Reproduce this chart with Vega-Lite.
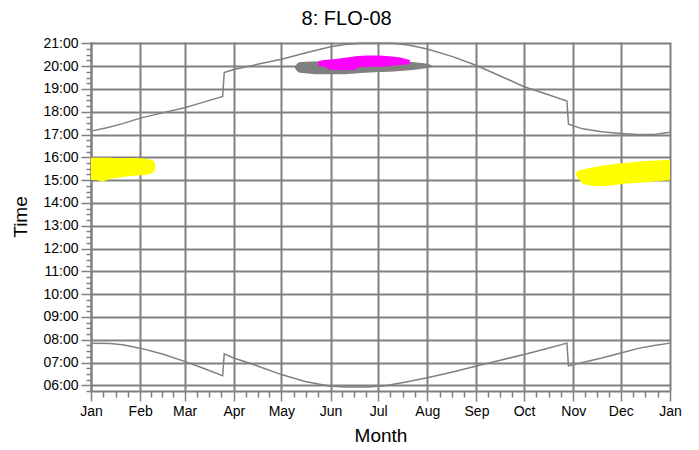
{
  "$schema": "https://vega.github.io/schema/vega-lite/v6.json",
  "width": 579,
  "height": 349,
  "autosize": "none",
  "padding": {"left": 91, "top": 42, "right": 29, "bottom": 59},
  "title": {"text": "8: FLO-08", "font": "Liberation Sans", "fontSize": 20, "fontWeight": "normal", "color": "black", "frame": "bounds", "anchor": "middle", "baseline": "alphabetic", "offset": 11, "dy": 20},
  "config": {
    "view": {"stroke": null},
    "font": "Liberation Sans",
    "axis": {
      "domainColor": "#808080", "domainWidth": 2,
      "tickColor": "#808080", "tickWidth": 1.5,
      "gridColor": "#808080", "gridWidth": 2,
      "labelFont": "Liberation Sans", "labelFontSize": 14, "labelColor": "black",
      "titleFont": "Liberation Sans", "titleFontSize": 19, "titleFontWeight": "normal", "titleColor": "black",
      "zindex": 1, "labelOverlap": false, "labelFlush": false, "labelBound": false, "tickCount": 1000
    }
  },
  "datasets": {
    "glare": [
      {"series": "A", "blob": "A1", "day": 0, "lo": 15.02, "hi": 15.98},
      {"series": "A", "blob": "A1", "day": 4, "lo": 14.99, "hi": 15.98},
      {"series": "A", "blob": "A1", "day": 7, "lo": 14.94, "hi": 15.98},
      {"series": "A", "blob": "A1", "day": 10, "lo": 15.01, "hi": 15.98},
      {"series": "A", "blob": "A1", "day": 14, "lo": 15.07, "hi": 15.97},
      {"series": "A", "blob": "A1", "day": 20, "lo": 15.14, "hi": 15.97},
      {"series": "A", "blob": "A1", "day": 26, "lo": 15.18, "hi": 15.97},
      {"series": "A", "blob": "A1", "day": 31, "lo": 15.21, "hi": 15.96},
      {"series": "A", "blob": "A1", "day": 35, "lo": 15.24, "hi": 15.93},
      {"series": "A", "blob": "A1", "day": 38, "lo": 15.29, "hi": 15.9},
      {"series": "A", "blob": "A1", "day": 40, "lo": 15.41, "hi": 15.82},
      {"series": "A", "blob": "A1", "day": 40.5, "lo": 15.55, "hi": 15.7},
      {"series": "A", "blob": "A2", "day": 305.5, "lo": 15.22, "hi": 15.3},
      {"series": "A", "blob": "A2", "day": 307, "lo": 15.08, "hi": 15.4},
      {"series": "A", "blob": "A2", "day": 310, "lo": 14.84, "hi": 15.47},
      {"series": "A", "blob": "A2", "day": 315, "lo": 14.77, "hi": 15.54},
      {"series": "A", "blob": "A2", "day": 321, "lo": 14.74, "hi": 15.62},
      {"series": "A", "blob": "A2", "day": 328, "lo": 14.77, "hi": 15.69},
      {"series": "A", "blob": "A2", "day": 334, "lo": 14.82, "hi": 15.74},
      {"series": "A", "blob": "A2", "day": 343, "lo": 14.87, "hi": 15.8},
      {"series": "A", "blob": "A2", "day": 352, "lo": 14.92, "hi": 15.85},
      {"series": "A", "blob": "A2", "day": 360, "lo": 14.97, "hi": 15.87},
      {"series": "A", "blob": "A2", "day": 365, "lo": 15.0, "hi": 15.88},
      {"series": "B", "blob": "B1", "day": 128.5, "lo": 19.92, "hi": 19.98},
      {"series": "B", "blob": "B1", "day": 130, "lo": 19.78, "hi": 20.12},
      {"series": "B", "blob": "B1", "day": 132, "lo": 19.71, "hi": 20.18},
      {"series": "B", "blob": "B1", "day": 138, "lo": 19.67, "hi": 20.2},
      {"series": "B", "blob": "B1", "day": 144, "lo": 19.64, "hi": 20.22},
      {"series": "B", "blob": "B1", "day": 157, "lo": 19.64, "hi": 20.25},
      {"series": "B", "blob": "B1", "day": 170, "lo": 19.7, "hi": 20.25},
      {"series": "B", "blob": "B1", "day": 182, "lo": 19.74, "hi": 20.25},
      {"series": "B", "blob": "B1", "day": 195, "lo": 19.79, "hi": 20.22},
      {"series": "B", "blob": "B1", "day": 207, "lo": 19.87, "hi": 20.15},
      {"series": "B", "blob": "B1", "day": 213, "lo": 19.93, "hi": 20.08},
      {"series": "B", "blob": "B1", "day": 215.5, "lo": 19.99, "hi": 20.02},
      {"series": "C", "blob": "C1", "day": 143.3, "lo": 20.0, "hi": 20.22},
      {"series": "C", "blob": "C1", "day": 147, "lo": 19.98, "hi": 20.27},
      {"series": "C", "blob": "C1", "day": 151, "lo": 19.84, "hi": 20.29},
      {"series": "C", "blob": "C1", "day": 160, "lo": 19.83, "hi": 20.37},
      {"series": "C", "blob": "C1", "day": 167, "lo": 19.84, "hi": 20.44},
      {"series": "C", "blob": "C1", "day": 168, "lo": 19.95, "hi": 20.45},
      {"series": "C", "blob": "C1", "day": 180, "lo": 19.97, "hi": 20.47},
      {"series": "C", "blob": "C1", "day": 188, "lo": 20.0, "hi": 20.44},
      {"series": "C", "blob": "C1", "day": 195, "lo": 20.05, "hi": 20.38},
      {"series": "C", "blob": "C1", "day": 201, "lo": 20.08, "hi": 20.27}
    ],
    "sun": [
      {"event": "sunset", "day": 0, "hour": 17.15},
      {"event": "sunset", "day": 10, "hour": 17.3},
      {"event": "sunset", "day": 20, "hour": 17.48},
      {"event": "sunset", "day": 31, "hour": 17.72},
      {"event": "sunset", "day": 45, "hour": 17.95},
      {"event": "sunset", "day": 59, "hour": 18.18},
      {"event": "sunset", "day": 70, "hour": 18.4},
      {"event": "sunset", "day": 83, "hour": 18.67},
      {"event": "sunset", "day": 84, "hour": 19.72},
      {"event": "sunset", "day": 90, "hour": 19.85},
      {"event": "sunset", "day": 105, "hour": 20.08},
      {"event": "sunset", "day": 120, "hour": 20.3},
      {"event": "sunset", "day": 135, "hour": 20.58},
      {"event": "sunset", "day": 151, "hour": 20.85},
      {"event": "sunset", "day": 160, "hour": 20.95},
      {"event": "sunset", "day": 170, "hour": 21.0},
      {"event": "sunset", "day": 190, "hour": 21.0},
      {"event": "sunset", "day": 200, "hour": 20.93},
      {"event": "sunset", "day": 212, "hour": 20.75},
      {"event": "sunset", "day": 228, "hour": 20.42},
      {"event": "sunset", "day": 243, "hour": 20.03},
      {"event": "sunset", "day": 258, "hour": 19.57},
      {"event": "sunset", "day": 273, "hour": 19.1},
      {"event": "sunset", "day": 287, "hour": 18.78},
      {"event": "sunset", "day": 300, "hour": 18.47},
      {"event": "sunset", "day": 301, "hour": 17.45},
      {"event": "sunset", "day": 310, "hour": 17.25},
      {"event": "sunset", "day": 322, "hour": 17.12},
      {"event": "sunset", "day": 334, "hour": 17.05},
      {"event": "sunset", "day": 345, "hour": 17.0},
      {"event": "sunset", "day": 355, "hour": 17.0},
      {"event": "sunset", "day": 365, "hour": 17.1},
      {"event": "sunrise", "day": 0, "hour": 7.85},
      {"event": "sunrise", "day": 12, "hour": 7.83},
      {"event": "sunrise", "day": 20, "hour": 7.78},
      {"event": "sunrise", "day": 31, "hour": 7.63},
      {"event": "sunrise", "day": 45, "hour": 7.37},
      {"event": "sunrise", "day": 59, "hour": 7.05},
      {"event": "sunrise", "day": 70, "hour": 6.77},
      {"event": "sunrise", "day": 83, "hour": 6.42},
      {"event": "sunrise", "day": 84, "hour": 7.38},
      {"event": "sunrise", "day": 90, "hour": 7.2},
      {"event": "sunrise", "day": 105, "hour": 6.85},
      {"event": "sunrise", "day": 120, "hour": 6.47},
      {"event": "sunrise", "day": 135, "hour": 6.17},
      {"event": "sunrise", "day": 150, "hour": 5.97},
      {"event": "sunrise", "day": 160, "hour": 5.93},
      {"event": "sunrise", "day": 175, "hour": 5.93},
      {"event": "sunrise", "day": 185, "hour": 5.98},
      {"event": "sunrise", "day": 197, "hour": 6.12},
      {"event": "sunrise", "day": 212, "hour": 6.33},
      {"event": "sunrise", "day": 228, "hour": 6.58},
      {"event": "sunrise", "day": 243, "hour": 6.85},
      {"event": "sunrise", "day": 258, "hour": 7.1},
      {"event": "sunrise", "day": 273, "hour": 7.35},
      {"event": "sunrise", "day": 287, "hour": 7.6},
      {"event": "sunrise", "day": 300, "hour": 7.85},
      {"event": "sunrise", "day": 301, "hour": 6.85},
      {"event": "sunrise", "day": 310, "hour": 7.0},
      {"event": "sunrise", "day": 322, "hour": 7.2},
      {"event": "sunrise", "day": 334, "hour": 7.42},
      {"event": "sunrise", "day": 345, "hour": 7.62},
      {"event": "sunrise", "day": 355, "hour": 7.75},
      {"event": "sunrise", "day": 365, "hour": 7.85}
    ]
  },
  "layer": [
    {
      "data": {"name": "glare"},
      "transform": [{"filter": "datum.series == 'B'"}],
      "mark": {"type": "area", "color": "#808080", "interpolate": "monotone", "opacity": 1},
      "encoding": {
        "x": {
          "field": "day", "type": "quantitative",
          "scale": {"domain": [0, 365], "nice": false, "zero": false},
          "axis": {
            "title": "Month",
            "values": [0, 7.75, 15.5, 23.25, 31, 38, 45, 52, 59, 66.75, 74.5, 82.25, 90, 97.5, 105, 112.5, 120, 127.75, 135.5, 143.25, 151, 158.5, 166, 173.5, 181, 188.75, 196.5, 204.25, 212, 219.75, 227.5, 235.25, 243, 250.5, 258, 265.5, 273, 280.75, 288.5, 296.25, 304, 311.5, 319, 326.5, 334, 341.75, 349.5, 357.25, 365],
            "labelExpr": "indexof([0,31,59,90,120,151,181,212,243,273,304,334,365], datum.value) >= 0 ? ['Jan','Feb','Mar','Apr','May','Jun','Jul','Aug','Sep','Oct','Nov','Dec','Jan'][indexof([0,31,59,90,120,151,181,212,243,273,304,334,365], datum.value)] : ''",
            "grid": true,
            "gridOpacity": {"condition": {"test": "indexof([0,31,59,90,120,151,181,212,243,273,304,334,365], datum.value) >= 0", "value": 1}, "value": 0},
            "tickSize": {"condition": {"test": "indexof([0,31,59,90,120,151,181,212,243,273,304,334,365], datum.value) >= 0", "value": 10}, "value": 6},
            "tickCount": 1000,
            "labelPadding": 3,
            "titlePadding": 8
          }
        },
        "y": {
          "field": "hi", "type": "quantitative",
          "scale": {"domain": [5.75, 21.06], "nice": false, "zero": false},
          "axis": {
            "title": "Time",
            "values": [5.75,6,6.25,6.5,6.75,7,7.25,7.5,7.75,8,8.25,8.5,8.75,9,9.25,9.5,9.75,10,10.25,10.5,10.75,11,11.25,11.5,11.75,12,12.25,12.5,12.75,13,13.25,13.5,13.75,14,14.25,14.5,14.75,15,15.25,15.5,15.75,16,16.25,16.5,16.75,17,17.25,17.5,17.75,18,18.25,18.5,18.75,19,19.25,19.5,19.75,20,20.25,20.5,20.75,21],
            "labelExpr": "datum.value % 1 == 0 ? (datum.value < 10 ? '0' : '') + datum.value + ':00' : ''",
            "grid": true,
            "gridOpacity": {"condition": {"test": "datum.value % 1 == 0", "value": 1}, "value": 0},
            "tickSize": {"condition": {"test": "datum.value % 1 == 0", "value": 10}, "value": 5},
            "tickCount": 1000,
            "labelPadding": 3,
            "titlePadding": 12
          }
        },
        "y2": {"field": "lo"}
      }
    },
    {
      "data": {"name": "glare"},
      "transform": [{"filter": "datum.series == 'C'"}],
      "mark": {"type": "area", "color": "#FF00FF", "interpolate": "monotone", "opacity": 1},
      "encoding": {
        "x": {"field": "day", "type": "quantitative", "title": "Month"},
        "y": {"field": "hi", "type": "quantitative", "title": "Time"},
        "y2": {"field": "lo"}
      }
    },
    {
      "data": {"name": "glare"},
      "transform": [{"filter": "datum.series == 'A'"}],
      "mark": {"type": "area", "color": "#FFFF00", "interpolate": "monotone", "opacity": 1},
      "encoding": {
        "x": {"field": "day", "type": "quantitative", "title": "Month"},
        "y": {"field": "hi", "type": "quantitative", "title": "Time"},
        "y2": {"field": "lo"},
        "detail": {"field": "blob"}
      }
    },
    {
      "data": {"name": "sun"},
      "mark": {"type": "line", "color": "#808080", "strokeWidth": 1.5},
      "encoding": {
        "x": {"field": "day", "type": "quantitative", "title": "Month"},
        "y": {"field": "hour", "type": "quantitative", "title": "Time"},
        "detail": {"field": "event"}
      }
    }
  ]
}
